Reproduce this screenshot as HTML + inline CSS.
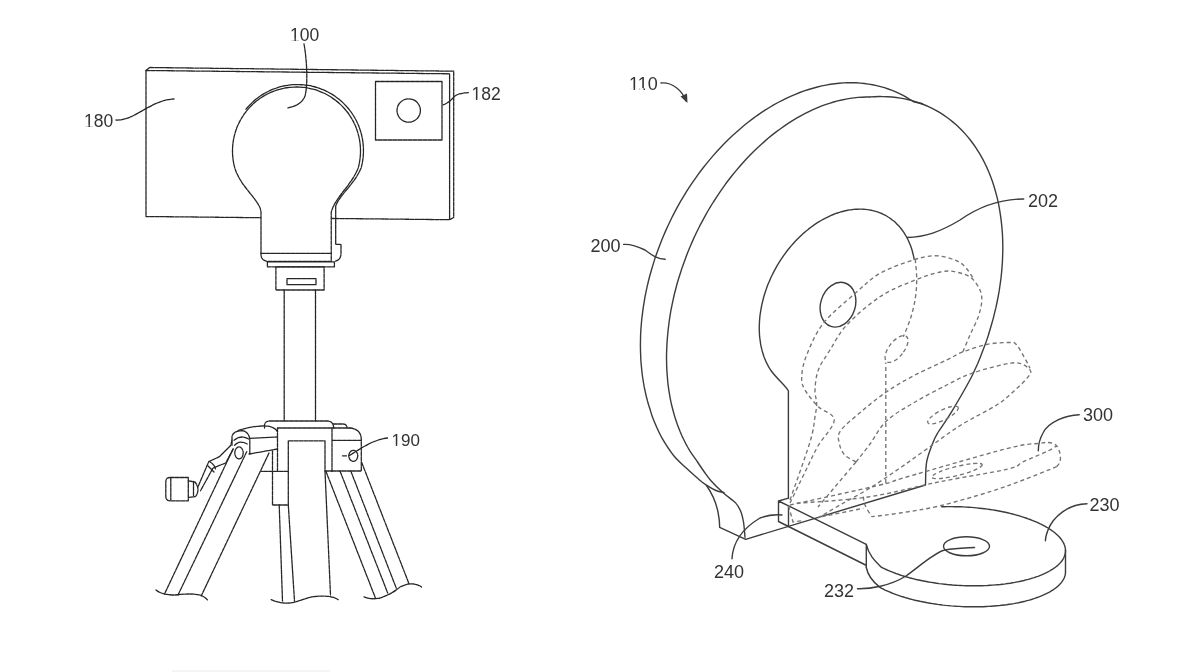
<!DOCTYPE html>
<html>
<head>
<meta charset="utf-8">
<style>
html,body{margin:0;padding:0;background:#fff;}
body{width:1202px;height:672px;overflow:hidden;}
svg{display:block;will-change:transform;}
text{font-family:"Liberation Sans",sans-serif;font-size:18px;fill:#333;}
.l{fill:none;stroke:#262626;stroke-width:1.3;stroke-dasharray:4 1;stroke-linejoin:round;stroke-linecap:round;}
.s{fill:none;stroke:#3c3c3c;stroke-width:1.4;stroke-linejoin:round;stroke-linecap:round;}
.d{fill:none;stroke:#747474;stroke-width:1.35;stroke-dasharray:4 3;}
.ld{fill:none;stroke:#444;stroke-width:1.2;stroke-dasharray:4 2;}
</style>
</head>
<body>
<svg width="1202" height="672" viewBox="0 0 1202 672">
<!-- ============ LEFT FIGURE ============ -->
<g id="left">
  <!-- camera rect 180 -->
  <path class="l" d="M146 70.5 L449.6 73.8 L449.6 219.7 L146 216.5 Z"/>
  <path class="l" d="M146 70.5 L149.5 67.5 L453.7 71.2 L453.7 217.5 L449.6 219.7"/>
  <!-- square 182 -->
  <path class="l" d="M375.5 81.5 L442 81.5 L442 140 L375.5 140 Z"/>
  <circle class="l" cx="408.7" cy="110.5" r="11.7"/>
  <!-- bulb -->
  <path class="l" style="fill:#fff" d="M261 255 L261 212 C260 200 241 188 234.8 168 A64 64 0 1 1 358.2 168 C351 186 336 196 331.25 212 L331.25 261.4 L268 261.4 Q261.5 261 261 255 Z"/>
  <path class="l" d="M261 253.4 L331.25 253.4"/>
  <path class="l" d="M246 109.2 A66 66 0 0 1 361.1 168 C354 185 340 194 335.7 206 L335.7 244.4 L341 244.4 L341 254 Q340.5 260.5 334.5 261.4"/>
  <!-- base plate -->
  <path class="l" d="M267.4 261.9 L334.4 261.9 L334.4 266.8 L267.4 266.8 Z"/>
  <!-- collar -->
  <path class="l" d="M275.9 266.8 L324.1 266.8 L324.1 290 L275.9 290 Z"/>
  <path class="l" d="M287 278.7 L316 278.7 L316 284.7 L287 284.7 Z"/>
  <!-- pole -->
  <path class="l" d="M284.2 290 L284.2 421 M315.5 290 L315.5 421"/>
  <!-- tripod head top plate -->
  <path class="l" d="M264.5 428 L264.5 425 Q265 421 270 421 L328 421 Q333.5 421.5 333.7 428"/>
  <path class="l" d="M333 424 L343 424 Q347 424 347 428"/>
  <!-- center block -->
  <path class="l" d="M277.5 428 L350 428"/>
  <path class="l" d="M288.3 471.3 L277.5 471.3 L277.5 428 M277.5 471.3 L261 471.3"/>
  <path class="l" d="M325 471 L332 471"/>
  <path class="l" d="M332 428 L332 471"/>
  <!-- right block -->
  <path class="l" d="M350 428 Q361.3 429 361.3 440 L361.3 471 L332 471"/>
  <path class="l" d="M332.5 440.3 L361 440.3"/>
  <ellipse class="l" cx="353.3" cy="455.8" rx="4.5" ry="5.5"/>
  <!-- inner rect / center leg -->
  <path class="l" d="M288.3 505 L288.3 440.8 L325 440.8 L325 471 L330.5 595"/>
  <path class="l" d="M288.3 505 L294.5 601"/>
  <!-- sleeve -->
  <path class="l" d="M272.5 450.8 L272.5 505 L288.3 505"/>
  <path class="l" d="M279.2 505 L282.5 601"/>
  <!-- left block -->
  <path class="l" d="M238 430.5 Q250 426.5 262 426 Q274 425.5 277.5 431.7"/>
  <path class="l" d="M249.8 438.3 L277.5 437"/>
  <path class="l" d="M249 454 L277.5 449"/>
  <!-- knuckle -->
  <path class="l" d="M232 445.3 L232 436.4 Q233 431 242.2 430.7 Q248.5 431.5 249.8 439 L249.8 454"/>
  <path class="l" d="M234 440.2 Q238 437 242.2 437 Q246 437.5 248.5 439"/>
  <path class="l" d="M234.6 445.3 Q238 442 240.9 442.1 Q245 442.5 247.2 444"/>
  <ellipse class="l" cx="239" cy="452.9" rx="4.2" ry="6"/>
  <!-- handle -->
  <path class="l" d="M232 440.2 L230.8 445.3 L219.4 456.7 L208.7 461.7 L197.9 487"/>
  <path class="l" d="M233.3 449 L225.7 463 L213 468 L200.5 490.8"/>
  <path class="l" d="M210 462 Q214 464 215.5 469 M208 466 L214 472"/>
  <!-- knob -->
  <path class="l" d="M170 477.5 L188.3 477.5 L188.3 500.8 L170 500.8 Q165.8 500.8 165.8 496 L165.8 482 Q165.8 477.5 170 477.5 Z"/>
  <path class="l" d="M170.8 478 L170.8 500"/>
  <path class="l" d="M188.3 480.8 L195 482 Q198 486 198 490 Q197.5 495 195 496.7 L188.3 497.5 M193.5 481.5 L193.5 496.5"/>
  <!-- left legs -->
  <path class="l" d="M233 449 L164.5 594 M246.7 451.7 L178 595 M269 453 L201.2 596"/>
  <path class="l" d="M156 590 Q162 595 175 595 Q190 593 200 595 Q205 597 207.5 600"/>
  <!-- center break -->
  <path class="l" d="M271.2 599.6 C276 602 282 603.5 290 603 C298 602 306 597.5 315 596.5 C324 595.5 334 596 338.8 600.1"/>
  <!-- right legs -->
  <path class="l" d="M325.8 471 L375.4 597.9 M340 471 L387.7 593 M350.8 471 L396.3 588.2 M361.7 462.5 L409.1 584"/>
  <path class="l" d="M364 596.8 Q372 600 380 598 Q392 594 400 587 Q408 583 414 584 Q419 585 421.5 587"/>
  <!-- labels -->
  <text x="290" y="40.5" style="font-size:17.5px">100</text>
  <path class="l" d="M304 44 C307 60 308 85 305 96 C302 104 294 107 287 108"/>
  <text x="84" y="126.5" style="font-size:17.5px">180</text>
  <path class="l" d="M116 120 C135 121 150 100 174 99"/>
  <text x="471.5" y="100" style="font-size:17.5px">182</text>
  <path class="l" d="M468.4 92.6 C460 93 455 95 453 98 C449 102 446 104 442.5 105"/>
  <text x="391.5" y="446" style="font-size:17px">190</text>
  <path class="l" d="M387.5 438 C372 440 360 449 349 455.8 M342.5 455.8 L347 455.8"/>
</g>

<g id="right">
<path class="s" d="M922.5 103.7 L913.5 101.7 L910.1 99.5 L906.6 97.4 L903.1 95.4 L899.5 93.6 L895.8 91.9 L892.1 90.4 L888.3 89.0 L884.4 87.7 L880.5 86.6 L876.6 85.6 L872.6 84.8 L868.5 84.1 L864.4 83.5 L860.3 83.1 L856.1 82.8 L851.9 82.7 L847.7 82.8 L843.4 82.9 L839.1 83.2 L834.8 83.7 L830.4 84.3 L826.1 85.1 L821.7 85.9 L817.4 87.0 L813.0 88.2 L808.6 89.5 L804.2 90.9 L799.8 92.5 L795.4 94.3 L791.1 96.1 L786.7 98.1 L782.3 100.3 L778.0 102.5 L773.7 104.9 L769.4 107.5 L765.1 110.1 L760.9 112.9 L756.7 115.8 L752.5 118.9 L748.4 122.0 L744.3 125.3 L740.3 128.7 L736.3 132.2 L732.3 135.8 L728.4 139.5 L724.6 143.3 L720.8 147.2 L717.1 151.2 L713.4 155.4 L709.8 159.6 L706.3 163.9 L702.8 168.3 L699.4 172.7 L696.1 177.3 L692.9 181.9 L689.7 186.6 L686.6 191.4 L683.6 196.3 L680.7 201.2 L677.9 206.2 L675.2 211.2 L672.5 216.3 L670.0 221.5 L667.5 226.7 L665.2 231.9 L662.9 237.2 L660.8 242.5 L658.7 247.9 L656.8 253.2 L654.9 258.6 L653.2 264.1 L651.6 269.5 L650.0 275.0 L648.6 280.5 L647.3 285.9 L646.1 291.4 L645.0 296.9 L644.1 302.4 L643.2 307.9 L642.5 313.3 L641.8 318.8 L641.3 324.2 L640.9 329.6 L640.6 335.0 L640.5 340.3 L640.4 345.6 L640.5 350.9 L640.7 356.1 L640.9 361.3 L641.4 366.4 L641.9 371.5 L642.5 376.5 L643.3 381.5 L644.1 386.4 L645.1 391.2 L646.2 396.0 L647.4 400.7 L648.7 405.3 L650.2 409.8 C651.7 415.4 651.6 415.3 653.6 420.0 C655.6 424.7 658.5 431.9 661.9 437.9 C665.3 443.8 669.8 450.8 673.8 455.7 C677.8 460.6 681.7 463.8 685.7 467.6 C689.7 471.4 694.2 475.4 697.6 478.3 C701.0 481.2 702.9 482.9 706.0 484.9 C709.1 486.9 713.0 489.2 716.0 490.5 C719.0 491.8 722.7 492.2 724.0 492.5"/>
<path class="s" d="M706.5 485.5 C711 492 716 502 718 512 C719.2 518 719.7 523 719.7 527.4 L745.7 539.3"/>
<path class="s" d="M869.9 97.0 L866.0 97.0 L862.0 97.2 L858.0 97.4 L854.0 97.9 L849.9 98.4 L845.9 99.1 L841.8 100.0 L837.7 100.9 L833.6 102.0 L829.5 103.3 L825.3 104.7 L821.2 106.2 L817.1 107.9 L813.0 109.7 L808.9 111.6 L804.8 113.7 L800.7 115.8 L796.6 118.2 L792.5 120.6 L788.5 123.2 L784.5 125.9 L780.5 128.7 L776.5 131.6 L772.6 134.6 L768.7 137.8 L764.9 141.1 L761.1 144.5 L757.3 148.0 L753.6 151.6 L749.9 155.3 L746.3 159.1 L742.7 163.0 L739.2 167.0 L735.7 171.1 L732.3 175.2 L729.0 179.5 L725.7 183.8 L722.5 188.3 L719.4 192.8 L716.4 197.4 L713.4 202.0 L710.5 206.7 L707.6 211.5 L704.9 216.4 L702.2 221.3 L699.6 226.2 L697.1 231.2 L694.7 236.3 L692.4 241.4 L690.2 246.5 L688.0 251.7 L686.0 256.9 L684.1 262.2 L682.2 267.4 L680.5 272.7 L678.8 278.0 L677.2 283.3 L675.8 288.7 L674.4 294.0 L673.2 299.3 L672.1 304.7 L671.0 310.0 L670.1 315.4 L669.3 320.7 L668.6 326.0 L668.0 331.3 L667.5 336.5 L667.1 341.8 L666.8 347.0 L666.6 352.2 L666.5 357.3 L666.6 362.4 L666.7 367.4 L667.0 372.4 L667.4 377.4 L667.8 382.3 L668.4 387.1 L669.1 391.9 L669.9 396.6 L670.8 401.3 L671.8 405.8 L673.0 410.3 L674.2 414.8 L675.5 419.1 L677.0 423.4 L678.5 427.5 L680.1 431.6 L681.8 435.6 L683.7 439.5 L685.6 443.3 L687.6 447.0 L689.7 450.6 L692.0 454.1 L694.3 457.4 L696.7 460.7 C699.0 464.2 701.6 468.2 704.0 471.5 C706.4 474.8 707.8 477.1 711.0 480.7 C714.2 484.3 719.3 489.3 723.4 493.0 C727.5 496.7 732.7 499.7 735.6 502.9 C738.5 506.1 739.7 508.8 741.0 512.0 C742.3 515.2 742.8 517.8 743.5 522.0 C744.2 526.2 744.8 534.7 745.0 537.2"/>
<path class="s" d="M870.1 96.9 L874.6 96.7 L879.0 96.5 L883.4 96.6 L887.7 96.7 L892.0 97.0 L896.3 97.5 L900.5 98.1 L904.7 98.9 L908.8 99.8 L912.9 100.9 L916.9 102.1 L920.8 103.5 L924.7 105.0 L928.5 106.6 L932.2 108.4 L935.9 110.3 L939.5 112.4 L943.0 114.6 L946.4 117.0 L949.8 119.5 L953.0 122.1 L956.2 124.8 L959.3 127.7 L962.3 130.7 L965.2 133.9 L968.0 137.1 L970.7 140.5 L973.3 144.0 L975.8 147.6 L978.2 151.4 L980.5 155.2 L982.7 159.2 L984.8 163.2 L986.8 167.4 L988.7 171.7 L990.4 176.0 L992.1 180.5 L993.6 185.0 L995.0 189.7 L996.3 194.4 L997.5 199.2 L998.6 204.1 L999.5 209.1 L1000.3 214.1 L1001.0 219.2 L1001.6 224.4 L1002.1 229.6 L1002.5 234.9 L1002.7 240.2 L1002.8 245.6 L1002.8 251.1 L1002.6 256.6 L1002.4 262.1 L1002.0 267.6 L1001.5 273.2 L1000.9 278.9 L1000.1 284.5 L999.3 290.2 L998.3 295.8 L997.2 301.5 L996.0 307.2 L994.6 312.9 L993.2 318.6 L991.6 324.3 L989.9 330.0 L988.2 335.7 L986.3 341.4 L984.2 347.0 L982.1 352.6 L979.9 358.2 L977.6 363.8 L975.1 369.3 L972.6 374.8 C967.2 385.6 957.4 402.2 951.7 411.7 C946.0 421.2 941.4 427.0 938.3 432.0 C935.2 437.0 935.2 436.8 933.3 441.7 C931.4 446.6 928.0 454.5 926.7 461.7 C925.4 468.9 925.7 481.1 925.5 485.0 L745.7 539.3"/>
<path class="s" d="M914.2 259.4 L913.8 257.2 L913.3 255.1 L912.8 253.0 L912.3 251.0 L911.7 249.0 L911.0 247.0 L910.3 245.1 L909.5 243.2 L908.7 241.3 L907.9 239.5 L907.0 237.7 L906.0 236.0 L905.0 234.3 L904.0 232.7 L902.9 231.1 L901.8 229.5 L900.6 228.0 L899.4 226.6 L898.1 225.2 L896.8 223.9 L895.5 222.6 L894.1 221.3 L892.6 220.2 L891.2 219.1 L889.7 218.0 L888.1 217.0 L886.6 216.0 L885.0 215.1 L883.3 214.3 L881.7 213.5 L879.9 212.8 L878.2 212.2 L876.5 211.6 L874.7 211.1 L872.9 210.6 L871.0 210.2 L869.2 209.9 L867.3 209.6 L865.4 209.4 L863.5 209.2 L861.5 209.1 L859.6 209.1 L857.6 209.2 L855.6 209.3 L853.6 209.4 L851.6 209.7 L849.6 209.9 L847.6 210.3 L845.5 210.7 L843.5 211.2 L841.5 211.7 L839.4 212.4 L837.4 213.0 L835.3 213.7 L833.3 214.5 L831.2 215.4 L829.2 216.3 L827.2 217.3 L825.1 218.3 L823.1 219.4 L821.1 220.5 L819.1 221.7 L817.1 222.9 L815.2 224.2 L813.2 225.6 L811.3 227.0 L809.4 228.4 L807.5 230.0 L805.6 231.5 L803.7 233.1 L801.9 234.8 L800.1 236.5 L798.3 238.2 L796.5 240.0 L794.8 241.8 L793.1 243.7 L791.4 245.6 L789.8 247.5 L788.2 249.5 L786.6 251.5 L785.1 253.6 L783.6 255.7 L782.1 257.8 L780.7 259.9 L779.3 262.1 L777.9 264.3 L776.6 266.6 L775.4 268.8 L774.1 271.1 L773.0 273.4 L771.8 275.7 L770.7 278.0 L769.7 280.4 L768.7 282.7 L767.7 285.1 L766.8 287.5 L766.0 289.9 L765.2 292.3 L764.4 294.7 L763.7 297.1 L763.1 299.5 L762.5 302.0 L761.9 304.4 L761.4 306.8 L761.0 309.2 L760.6 311.6 L760.2 314.0 L759.9 316.4 L759.7 318.8 L759.5 321.2 L759.4 323.5 L759.3 325.9 L759.3 328.2 L759.3 330.5 L759.4 332.8 L759.5 335.1 L759.7 337.3 L760.0 339.5 L760.3 341.7 L760.6 343.9 L761.0 346.0 L761.5 348.1 L762.0 350.2 L762.6 352.2 L763.2 354.2 L763.8 356.2 L764.5 358.1 L765.3 360.0 L766.1 361.9 L767.0 363.7 L767.9 365.4 L768.8 367.2 L769.9 368.8 L770.9 370.5 C778 380 786 386 788.4 391 L788.4 498"/>
<ellipse class="s" cx="838" cy="304.7" rx="17.3" ry="22.8" transform="rotate(18 838 304.7)"/>
<path class="s" d="M778.5 501 L778.5 521.5 L788.5 526.5 M778.5 501 L788.5 498.2 M778.5 501 L788.5 505.8 L788.5 526.5"/>
<path class="s" d="M788.5 505.8 L866.3 544.4 L866.3 567.5 M865.6 565 L788.5 526.5"/>
<path class="s" d="M941.7 506.8 L944.3 506.7 L947.0 506.6 L949.7 506.6 L952.4 506.6 L955.1 506.7 L957.8 506.7 L960.5 506.8 L963.2 506.9 L965.9 507.1 L968.6 507.2 L971.3 507.4 L974.0 507.6 L976.7 507.9 L979.4 508.2 L982.0 508.5 L984.7 508.8 L987.3 509.1 L989.9 509.5 L992.5 509.9 L995.1 510.3 L997.7 510.8 L1000.2 511.3 L1002.7 511.8 L1005.2 512.3 L1007.6 512.8 L1010.0 513.4 L1012.4 514.0 L1014.8 514.6 L1017.1 515.3 L1019.4 515.9 L1021.6 516.6 L1023.8 517.3 L1026.0 518.0 L1028.1 518.8 L1030.1 519.5 L1032.1 520.3 L1034.1 521.1 L1036.0 521.9 L1037.9 522.7 L1039.7 523.6 L1041.5 524.4 L1043.2 525.3 L1044.8 526.2 L1046.4 527.1 L1048.0 528.0 L1049.5 529.0 L1050.9 529.9 L1052.2 530.8 L1053.5 531.8 L1054.8 532.8 L1055.9 533.8 L1057.0 534.8 L1058.1 535.8 L1059.1 536.8 L1060.0 537.8 L1060.8 538.8 L1061.6 539.8 L1062.3 540.8 L1062.9 541.9 L1063.5 542.9 L1064.0 543.9 L1064.4 545.0 L1064.8 546.0 L1065.0 547.1 L1065.3 548.1 L1065.4 549.1 L1065.5 550.2 L1065.5 551.2 L1065.4 552.2 L1065.3 553.3 L1065.1 554.3 L1064.8 555.3 L1064.4 556.3 L1064.0 557.3 L1063.5 558.3 L1062.9 559.3 L1062.3 560.3 L1061.6 561.2 L1060.8 562.2 L1060.0 563.1 L1059.1 564.1 L1058.1 565.0 L1057.1 565.9 L1056.0 566.8 L1054.8 567.7 L1053.6 568.5 L1052.3 569.4 L1050.9 570.2 L1049.5 571.0 L1048.0 571.8 L1046.5 572.6 L1044.9 573.4 L1043.3 574.1 L1041.6 574.9 L1039.8 575.6 L1038.0 576.3 L1036.1 576.9 L1034.2 577.6 L1032.2 578.2 L1030.2 578.8 L1028.2 579.4 L1026.1 579.9 L1023.9 580.5 L1021.7 581.0 L1019.5 581.5 L1017.2 581.9 L1014.9 582.4 L1012.5 582.8 L1010.2 583.2 L1007.7 583.5 L1005.3 583.9 L1002.8 584.2 L1000.3 584.5 L997.8 584.7 L995.2 584.9 L992.7 585.1 L990.1 585.3 L987.4 585.5 L984.8 585.6 L982.1 585.7 L979.5 585.8 L976.8 585.8 L974.1 585.8 L971.4 585.8 L968.7 585.8 L966.0 585.7 L963.3 585.6 L960.6 585.5 L957.9 585.4 L955.2 585.2 L952.5 585.0 L949.8 584.7 L947.1 584.5 L944.4 584.2 L941.8 583.9 L939.1 583.6 L936.5 583.2 L933.9 582.8 L931.3 582.4 L928.7 582.0 L926.2 581.5 L923.6 581.0 L921.1 580.5 L918.7 580.0 L916.2 579.5 L913.8 578.9 L911.4 578.3 L909.1 577.7 L906.8 577.0 L904.5 576.3 L902.3 575.7 L900.1 575.0 L898.0 574.2 L895.9 573.5 L893.8 572.7 L891.8 571.9 L889.9 571.1 L888.0 570.3 L886.1 569.5 L884.3 568.7 L882.6 567.8 L880.9 566.9 C876 562 869 556 866.3 544.4"/>
<path class="s" d="M1065.5 550.6 L1065.5 571.6"/>
<path class="s" d="M1065.5 571.6 L1065.5 572.6 L1065.4 573.6 L1065.2 574.7 L1065.0 575.7 L1064.6 576.7 L1064.3 577.7 L1063.8 578.7 L1063.3 579.7 L1062.7 580.7 L1062.0 581.7 L1061.3 582.6 L1060.5 583.6 L1059.6 584.5 L1058.7 585.4 L1057.7 586.4 L1056.6 587.3 L1055.5 588.2 L1054.3 589.0 L1053.1 589.9 L1051.7 590.7 L1050.3 591.6 L1048.9 592.4 L1047.4 593.2 L1045.8 593.9 L1044.2 594.7 L1042.5 595.4 L1040.8 596.2 L1039.0 596.9 L1037.2 597.5 L1035.3 598.2 L1033.3 598.8 L1031.4 599.5 L1029.3 600.1 L1027.2 600.6 L1025.1 601.2 L1022.9 601.7 L1020.7 602.2 L1018.5 602.7 L1016.2 603.1 L1013.8 603.6 L1011.5 604.0 L1009.1 604.3 L1006.6 604.7 L1004.2 605.0 L1001.7 605.3 L999.2 605.6 L996.6 605.8 L994.0 606.0 L991.4 606.2 L988.8 606.4 L986.2 606.5 L983.6 606.7 L980.9 606.7 L978.2 606.8 L975.5 606.8 L972.8 606.8 L970.1 606.8 L967.4 606.7 L964.7 606.7 L962.0 606.6 L959.3 606.4 L956.6 606.3 L953.9 606.1 L951.2 605.9 L948.5 605.6 L945.8 605.4 L943.1 605.1 L940.5 604.7 L937.8 604.4 L935.2 604.0 L932.6 603.6 L930.0 603.2 L927.4 602.8 L924.9 602.3 L922.4 601.8 L919.9 601.3 L917.4 600.7 L915.0 600.2 L912.6 599.6 L910.2 599.0 L907.9 598.3 L905.6 597.7 L903.4 597.0 L901.2 596.3 L899.0 595.6 L896.9 594.9 L894.8 594.1 L892.8 593.3 L890.8 592.5 L888.9 591.7 L887.0 590.9 L885.1 590.1 L883.4 589.2 L881.6 588.3 L880.0 587.4 C873 582 867.5 574 866.3 567.5"/>
<ellipse class="s" cx="966.5" cy="546.3" rx="23" ry="9.5"/>
<path class="d" d="M790.0 503.0 C792.7 497.5 801.3 479.5 806.0 470.0 C810.7 460.5 813.3 454.3 818.0 446.0 C822.7 437.7 834.2 426.6 834.2 420.0 C834.2 413.4 823.2 411.7 818.3 406.7 C813.4 401.7 807.8 395.0 805.0 390.0 C802.2 385.0 801.4 382.5 801.7 376.7 C802.0 370.9 803.1 363.9 806.7 355.0 C810.3 346.1 815.4 333.4 823.3 323.3 C831.2 313.2 844.8 302.5 854.2 294.2 C863.7 285.9 870.1 279.0 880.0 273.3 C889.9 267.6 904.4 262.9 913.3 260.0 C922.2 257.1 927.2 256.1 933.3 255.8 C939.4 255.5 945.0 256.8 950.0 258.3 C955.0 259.8 959.4 261.7 963.3 265.0 C967.2 268.3 971.6 276.1 973.3 278.3"/>
<path class="d" d="M790.0 500.0 C793.3 490.3 805.8 455.9 810.0 442.0 C814.2 428.1 813.9 423.1 815.0 416.7 C816.1 410.2 816.7 407.8 816.7 403.3 C816.7 398.9 814.7 395.6 815.0 390.0 C815.3 384.4 815.8 376.7 818.3 370.0 C820.8 363.3 825.3 357.5 830.0 350.0 C834.7 342.5 838.4 333.9 846.7 325.0 C855.0 316.1 868.9 304.1 880.0 296.7 C891.1 289.3 903.0 285.0 913.3 280.8 C923.6 276.6 934.2 273.1 941.7 271.7 C949.2 270.3 953.3 271.4 958.3 272.5 C963.3 273.6 968.1 275.4 971.7 278.3 C975.3 281.2 978.3 286.1 980.0 290.0 C981.7 293.9 982.0 297.2 981.7 301.7 C981.4 306.1 980.2 311.1 978.3 316.7 C976.3 322.2 972.6 329.0 970.0 335.0 C967.4 341.0 963.8 349.6 962.5 352.5"/>
<path class="d" d="M915.3 259.2 C915.5 262.7 916.8 273.2 916.7 280.0 C916.7 286.8 916.1 293.3 915.0 300.0 C913.9 306.7 912.0 313.9 910.0 320.0 C908.0 326.1 904.4 333.9 903.3 336.7"/>
<path class="d" d="M885.8 483 L885.8 362.5"/>
<path class="d" d="M856.0 462.0 C854.1 460.8 847.5 458.0 844.8 455.0 C842.0 452.0 840.2 448.0 839.5 444.0 C838.8 440.0 836.6 436.5 840.4 431.0 C844.1 425.5 854.3 417.6 862.0 411.0 C869.7 404.4 877.9 397.7 886.7 391.7 C895.5 385.7 905.0 380.3 915.0 375.0 C925.0 369.7 938.7 363.9 946.7 360.0 C954.8 356.1 956.4 354.3 963.3 351.7 C970.2 349.1 980.5 345.7 988.3 344.2 C996.1 342.7 1005.3 342.4 1010.0 342.5 C1014.7 342.6 1013.9 341.8 1016.7 345.0 C1019.5 348.2 1024.5 357.8 1026.7 361.7 C1028.9 365.6 1029.5 367.2 1030.0 368.3"/>
<path class="d" d="M856.0 462.0 C858.3 459.0 864.9 450.9 870.0 444.0 C875.1 437.1 879.2 427.8 886.7 420.8 C894.2 413.8 905.0 408.0 915.0 402.0 C925.0 396.0 937.2 389.8 946.7 385.0 C956.2 380.2 962.0 376.8 971.7 373.3 C981.4 369.8 997.0 365.9 1005.0 364.2 C1013.0 362.5 1015.8 362.3 1020.0 363.3 C1024.2 364.3 1028.6 367.8 1030.0 370.0 C1031.4 372.2 1031.1 373.1 1028.3 376.7 C1025.5 380.3 1018.6 387.0 1013.3 391.7 C1008.0 396.4 1005.4 399.4 996.7 405.0 C988.0 410.6 972.2 418.0 961.0 425.0 C949.8 432.0 939.8 439.8 929.6 447.0 C919.4 454.2 909.9 461.2 900.0 468.0 C890.1 474.8 880.0 481.8 870.0 488.0 C860.0 494.2 848.7 500.0 840.0 505.0 C831.3 510.0 821.7 515.8 818.0 518.0"/>
<path class="d" d="M856 462 L818 507"/>
<path class="d" d="M790.0 505.0 C805.0 501.7 860.5 489.7 880.0 485.0 C899.5 480.3 885.4 483.1 906.7 477.0 C928.0 470.9 985.8 453.9 1008.0 448.3 C1030.2 442.7 1033.3 444.3 1040.0 443.3 C1046.7 442.3 1045.7 442.2 1048.3 442.5 C1050.9 442.8 1053.8 443.2 1055.8 445.0 C1057.8 446.8 1059.3 450.5 1060.0 453.3 C1060.7 456.1 1060.5 459.5 1060.0 461.7 C1059.5 463.9 1057.2 465.9 1056.7 466.7"/>
<path class="d" d="M796.7 503.3 C808.6 502.2 844.1 500.6 868.0 497.0 C891.9 493.4 916.7 486.4 940.0 481.7 C963.3 477.0 994.1 472.3 1008.0 469.0 C1021.9 465.7 1016.6 464.7 1023.3 461.7 C1030.0 458.7 1042.7 453.4 1048.3 450.8 C1053.9 448.2 1055.3 446.6 1056.7 445.8"/>
<path class="d" d="M1056.7 466.7 C1051.1 468.9 1034.4 475.8 1023.3 480.0 C1012.2 484.2 1003.9 487.4 990.0 491.7 C976.1 496.0 955.0 502.2 940.0 505.8 C925.0 509.4 911.4 511.2 900.0 513.0 C888.6 514.8 876.4 516.1 871.7 516.7"/>
<path class="d" d="M863.3 496.7 C863.6 498.1 863.6 501.7 865.0 505.0 C866.4 508.3 870.6 514.8 871.7 516.7"/>
<path class="d" d="M821.7 516.7 L863.3 508.3"/>
<path class="d" d="M788.5 505.8 L793 522 L803 520.6"/>
<ellipse class="d" cx="896.5" cy="349" rx="7.5" ry="16" transform="rotate(38 896.5 349)"/>
<ellipse class="d" cx="957" cy="471" rx="26" ry="4.5" transform="rotate(-14 957 471)"/>
<ellipse class="d" cx="943" cy="415" rx="17" ry="5" transform="rotate(-27 943 415)"/>

  <text x="629" y="90">110</text>
  <path class="s" d="M661 83 C672 82 682 90 686 101"/>
  <path d="M680.5 96.5 L687.5 103 L687 93.5 Z" fill="#3c3c3c"/>
  <text x="1028" y="207">202</text>
  <path class="s" d="M1023.7 199 C1000 199 980 206 960 220 C940 232 925 237 907 237.5"/>
  <text x="590.4" y="251.7">200</text>
  <path class="s" d="M623.6 244.4 C630 244 637 246 645 250 C653 256 658 259 665.2 259.3"/>
  <text x="1083.1" y="421.3">300</text>
  <path class="s" d="M1079.2 414.7 C1066 415 1048 422 1043 433 C1039 440 1038.3 446 1038.3 450.8"/>
  <text x="1089.6" y="511">230</text>
  <path class="s" d="M1087 503.8 C1068 504 1053 517 1048 530 C1046 535 1045.4 538 1045.4 540.7"/>
  <text x="714" y="577.5">240</text>
  <path class="s" d="M732 558.7 C733 540 745 527 760 518 C768 515 776 514.5 782 515"/>
  <text x="824" y="596.7">232</text>
  <path class="s" d="M857.5 588.7 C870 589 890 586 906 576 C920 566 935 552 945 550 C955 548 965 548 974.5 547.5"/>
</g>
<rect x="290.35" y="38.66" width="4.08" height="2.10" fill="#fff"/><rect x="295.86" y="38.66" width="3.85" height="2.10" fill="#fff"/><rect x="84.35" y="124.66" width="4.08" height="2.10" fill="#fff"/><rect x="89.86" y="124.66" width="3.85" height="2.10" fill="#fff"/><rect x="471.85" y="98.16" width="4.08" height="2.10" fill="#fff"/><rect x="477.36" y="98.16" width="3.85" height="2.10" fill="#fff"/><rect x="391.84" y="444.21" width="3.96" height="2.04" fill="#fff"/><rect x="397.19" y="444.21" width="3.74" height="2.04" fill="#fff"/><rect x="629.36" y="88.11" width="4.19" height="2.16" fill="#fff"/><rect x="635.03" y="88.11" width="3.96" height="2.16" fill="#fff"/><rect x="639.37" y="88.11" width="4.19" height="2.16" fill="#fff"/><rect x="645.04" y="88.11" width="3.96" height="2.16" fill="#fff"/>
<rect x="172" y="670" width="158" height="2" fill="#f5f5f5"/>
</svg>
</body>
</html>
